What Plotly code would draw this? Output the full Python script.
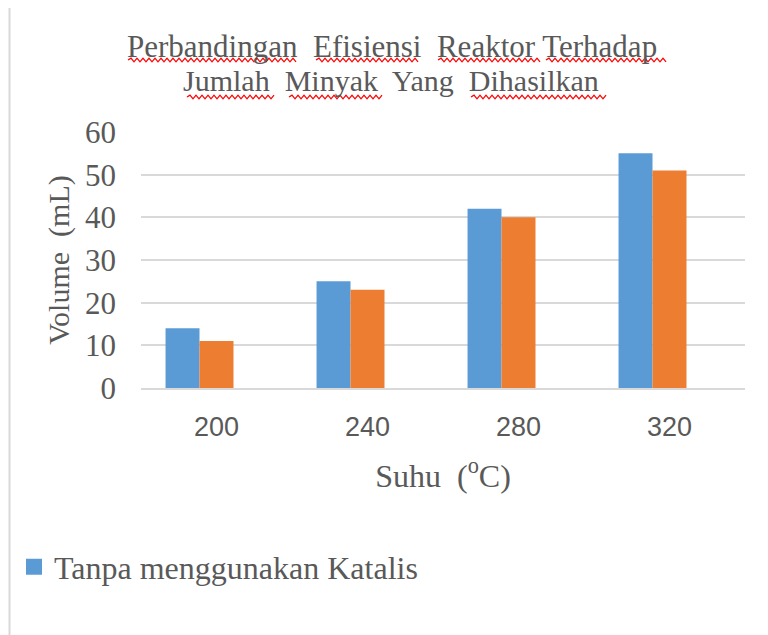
import plotly.graph_objects as go

categories = ["200", "240", "280", "320"]
tanpa_katalis = [14, 25, 42, 55]
dengan_katalis = [11, 23, 40, 51]
series3 = [None, None, None, None]

W, H = 768, 635
OFF = 8  # default page body margin
L, T = 141 - OFF, 132 - OFF
PW, PH = 604, 256
R = W - L - PW
B = H - T - PH

def px(x):
    return (x - OFF - L) / PW

def py(y):
    return (T + PH - (y - OFF)) / PH

grey = "#595959"
serif = "Liberation Serif"

fig = go.Figure()
fig.add_trace(go.Bar(x=categories, y=tanpa_katalis, name="Tanpa menggunakan Katalis",
                     marker=dict(color="#5b9bd5", line=dict(width=0)), showlegend=False))
fig.add_trace(go.Bar(x=categories, y=dengan_katalis, name="Menggunakan Katalis",
                     marker=dict(color="#ed7d31", line=dict(width=0)), showlegend=False))
fig.add_trace(go.Bar(x=categories, y=series3, name="Seri 3", marker=dict(color="#a5a5a5"),
                     showlegend=False))
fig.add_trace(go.Scatter(x=[None], y=[None], mode="markers", name="Tanpa menggunakan Katalis",
                         marker=dict(symbol="square", size=16, color="#5b9bd5"),
                         showlegend=True))

shapes = [dict(type="line", xref="paper", yref="paper", x0=px(OFF + 1.5), x1=px(OFF + 1.5),
               y0=py(0), y1=py(H + OFF), line=dict(color="#d9d9d9", width=2))]

def squiggle(x0, x1, y):
    d = "M %f %f" % (px(x0), py(y))
    step = 3.0
    x = x0
    up = True
    while x + step <= x1:
        x += step
        yy = y - 1.8 if up else y + 1.8
        d += " L %f %f" % (px(x), py(yy))
        up = not up
    return dict(type="path", xref="paper", yref="paper", path=d,
                line=dict(color="#ff0000", width=1.3))

for (a, b, yy) in [(128, 297, 60), (316, 419, 60), (438, 541, 60), (546, 667, 60),
                   (187, 275, 97), (289, 384, 97), (471, 608, 97)]:
    shapes.append(squiggle(a, b, yy))

fig.update_layout(
    width=W, height=H,
    margin=dict(l=L, r=R, t=T, b=B, autoexpand=False),
    paper_bgcolor="white", plot_bgcolor="white",
    barmode="group", bargap=0.325, bargroupgap=0,
    showlegend=True,
    legend=dict(x=px(14), y=py(567), xanchor="left", yanchor="middle",
                font=dict(family=serif, size=32, color=grey),
                bgcolor="rgba(0,0,0,0)"),
    xaxis=dict(type="category", showgrid=False, showline=True, linecolor="#d9d9d9",
               linewidth=2, ticks="", ticklabelstandoff=14,
               tickfont=dict(family="Liberation Sans", size=27, color=grey),
               title=dict(text="Suhu  (<sup>o</sup>C)", font=dict(family=serif, size=32, color=grey),
                          standoff=23)),
    yaxis=dict(range=[0, 60], dtick=10, showgrid=True, gridcolor="#d9d9d9", gridwidth=2,
               zeroline=False, showline=False, ticks="", ticklabelstandoff=24,
               tickfont=dict(family=serif, size=31, color=grey),
               title=dict(text="Volume  (mL)", font=dict(family=serif, size=30, color=grey),
                          standoff=6)),
    shapes=shapes,
    annotations=[
        dict(text="Perbandingan  Efisiensi  Reaktor Terhadap",
             xref="paper", yref="paper", x=px(392), y=py(46), xanchor="center",
             yanchor="middle", showarrow=False,
             font=dict(family=serif, size=31, color=grey)),
        dict(text="Jumlah  Minyak  Yang  Dihasilkan",
             xref="paper", yref="paper", x=px(391), y=py(80), xanchor="center",
             yanchor="middle", showarrow=False,
             font=dict(family=serif, size=30, color=grey)),
    ],
)

fig.write_html("out.html")
